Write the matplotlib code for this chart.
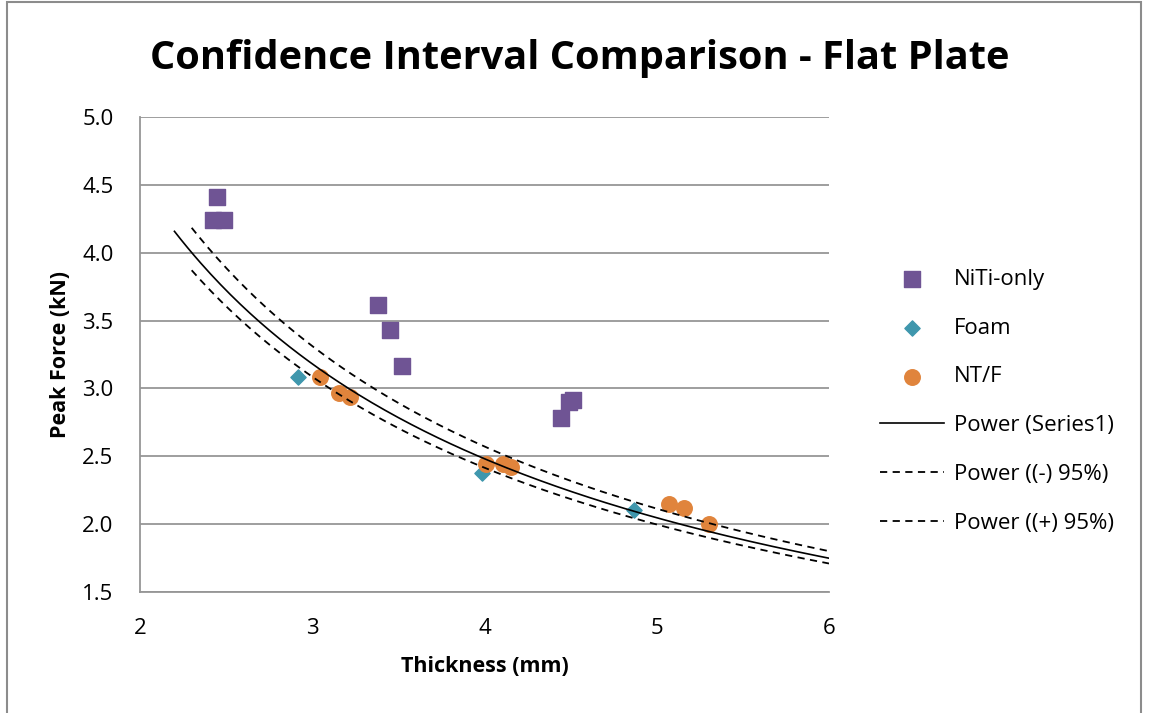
import numpy as np
import matplotlib.pyplot as plt
from matplotlib.patches import Rectangle

# data
niti_x = [2.447, 2.424, 2.488, 3.382, 3.451, 3.521, 4.444, 4.490, 4.514]
niti_y = [4.41, 4.24, 4.24, 3.615, 3.43, 3.165, 2.78, 2.90, 2.915]

foam_x = [2.917, 3.985, 4.868]
foam_y = [3.084, 2.377, 2.104]

ntf_x = [3.045, 3.155, 3.219, 4.009, 4.107, 4.154, 5.071, 5.158, 5.303]
ntf_y = [3.084, 2.966, 2.937, 2.443, 2.443, 2.420, 2.148, 2.119, 2.000]

# power trend lines y = a * x^b
fit_a, fit_b, fit_x0 = 8.21, -0.863, 2.2
low_a, low_b, low_x0 = 7.87, -0.852, 2.3
up_a, up_b, up_x0 = 8.70, -0.879, 2.3
x_end = 6.0

plt.rcParams['font.family'] = ['Open Sans', 'DejaVu Sans']

fig = plt.figure(figsize=(11.52, 7.13), dpi=100)
fig.patches.append(Rectangle((7/1152, -0.01), (1141-7)/1152, 1 - 2/713 + 0.01,
                             transform=fig.transFigure, fill=False,
                             edgecolor='#8c8c8c', linewidth=1.5))
ax = fig.add_axes([140/1152, 1-592/713, (829-140)/1152, (592-117)/713])

ax.scatter(niti_x, niti_y, marker='s', s=117, color='#6f5494', label='NiTi-only', zorder=3)
ax.scatter(foam_x, foam_y, marker='D', s=60, color='#3f97ad', label='Foam', zorder=3)
ax.scatter(ntf_x, ntf_y, marker='o', s=125, color='#e0843c', label='NT/F', zorder=3)

xs = np.linspace(fit_x0, x_end, 200)
ax.plot(xs, fit_a * xs ** fit_b, color='black', lw=1.2, label='Power (Series1)', zorder=4)
xs = np.linspace(low_x0, x_end, 200)
ax.plot(xs, low_a * xs ** low_b, color='black', lw=1.3, ls=(0, (4, 3)), label='Power ((-) 95%)', zorder=4)
xs = np.linspace(up_x0, x_end, 200)
ax.plot(xs, up_a * xs ** up_b, color='black', lw=1.3, ls=(0, (4, 3)), label='Power ((+) 95%)', zorder=4)

ax.set_xlim(2, 6)
ax.set_ylim(1.5, 5.0)
ax.set_xticks([2, 3, 4, 5, 6])
ax.set_yticks(np.arange(1.5, 5.01, 0.5))
ax.set_yticklabels(['%.1f' % v for v in np.arange(1.5, 5.01, 0.5)])
ax.tick_params(length=0, labelsize=16)
ax.tick_params(axis='x', pad=19)
ax.tick_params(axis='y', pad=19)
ax.grid(axis='y', color='#969696', lw=1.3)
ax.set_axisbelow(True)
for s in ['top', 'right']:
    ax.spines[s].set_visible(False)
for s in ['left', 'bottom']:
    ax.spines[s].set_color('#969696')
    ax.spines[s].set_linewidth(1.3)

ax.set_xlabel('Thickness (mm)', fontsize=15.5, fontweight='bold', labelpad=12)
ax.set_ylabel('Peak Force (kN)', fontsize=15.5, fontweight='bold', labelpad=8)
fig.text(0.503, 0.918, 'Confidence Interval Comparison - Flat Plate',
         ha='center', va='center', fontsize=28.6, fontweight='bold')

ax.legend(loc='upper left', bbox_to_anchor=(871/1152, 1-260/713), bbox_transform=fig.transFigure,
          frameon=False, fontsize=16, labelspacing=1.25, handlelength=2.9,
          handletextpad=0.45, borderaxespad=0, scatterpoints=1, markerscale=1)

fig.savefig('out.png', dpi=100)
